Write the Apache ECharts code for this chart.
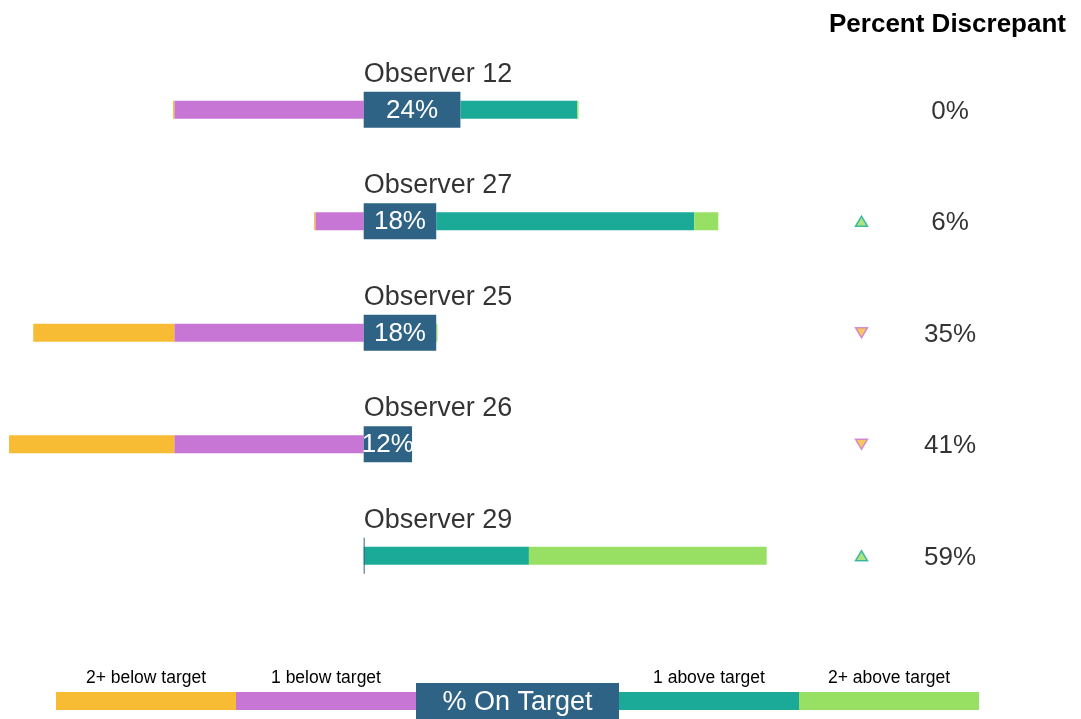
<!DOCTYPE html>
<html>
<head>
<meta charset="utf-8">
<script src="https://cdn.jsdelivr.net/npm/echarts@6/dist/echarts.min.js"></script>
<style>
    html, body { margin: 0; padding: 0; background: #fff; }
    #chart { width: 1081px; height: 719px; }
</style>
</head>
<body>
<div id="chart"></div>
<script>
// data, top to bottom
const observers = ['Observer 12', 'Observer 27', 'Observer 25', 'Observer 26', 'Observer 29'];
const below2 = [0.3, 0.3, 35, 41, 0];
const below1 = [47, 12, 47, 47, 0];
const onTarget = [24, 18, 18, 12, 0];
const above1 = [29, 64, 0, 0, 41];
const above2 = [0.3, 6, 0.3, 0, 59];
const discrepant = ['0%', '6%', '35%', '41%', '59%'];
const trend = ['none', 'up', 'down', 'down', 'up'];
const legendLabels = ['2+ below target', '1 below target', '% On Target', '1 above target', '2+ above target'];

const colors = {
    below2: '#f7bc33',
    below1: '#c876d6',
    onTarget: '#2f6386',
    above1: '#1aaa97',
    above2: '#97e063'
};
const FONT = 'Liberation Sans, Arial, sans-serif';

const chart = echarts.init(document.getElementById('chart'));

const neg = arr => arr.map(v => -v);

// legend strip at the bottom
const legendGraphics = [];
(function () {
    const x0 = 56, w = 180, y = 692, h = 18;
    const cols = [colors.below2, colors.below1, null, colors.above1, colors.above2];
    let x = x0;
    cols.forEach((c, i) => {
        if (c === null) {
            legendGraphics.push({ type: 'rect', shape: { x: x, y: 683, width: 203, height: 40 }, style: { fill: colors.onTarget } });
            legendGraphics.push({ type: 'text', x: x + 101.5, y: 703, style: { text: legendLabels[i], fill: '#fff', font: '27px ' + FONT, align: 'center', verticalAlign: 'middle' } });
            x += 203;
            return;
        }
        legendGraphics.push({ type: 'rect', shape: { x: x, y: y, width: w, height: h }, style: { fill: c } });
        legendGraphics.push({ type: 'text', x: x + w / 2, y: 678, style: { text: legendLabels[i], fill: '#000', font: '17.5px ' + FONT, align: 'center', verticalAlign: 'middle' } });
        x += w;
    });
})();

const option = {
    animation: false,
    textStyle: { fontFamily: FONT },
    title: {
        text: 'Percent Discrepant',
        right: 10, top: 7,
        textStyle: { fontSize: 26, fontWeight: 'bold', color: '#000', fontFamily: FONT }
    },
    grid: [
        { left: 1, right: 0, top: 54, height: 557.5 },
        { left: 0, right: 0, top: 54, height: 557.5 }
    ],
    xAxis: [
        { type: 'value', min: -90, max: 178, show: false, gridIndex: 0 },
        { type: 'value', min: 0, max: 1081, show: false, gridIndex: 1 }
    ],
    yAxis: [
        { type: 'category', data: observers, inverse: true, show: false, gridIndex: 0 },
        { type: 'category', data: observers, inverse: true, show: false, gridIndex: 0 },
        { type: 'category', data: observers, inverse: true, show: false, gridIndex: 1 }
    ],
    series: [
        { type: 'bar', stack: 'a', barWidth: 18, data: onTarget, itemStyle: { color: 'rgba(0,0,0,0)' }, silent: true },
        { type: 'bar', stack: 'a', barWidth: 18, data: above1, itemStyle: { color: colors.above1 } },
        { type: 'bar', stack: 'a', barWidth: 18, data: above2, itemStyle: { color: colors.above2 } },
        { type: 'bar', stack: 'a', barWidth: 18, data: neg(below1), itemStyle: { color: colors.below1 } },
        { type: 'bar', stack: 'a', barWidth: 18, data: neg(below2), itemStyle: { color: colors.below2 } },
        {
            type: 'bar', yAxisIndex: 1, barWidth: 36, barMinHeight: 1, data: onTarget,
            itemStyle: { color: colors.onTarget },
            label: {
                show: true, position: 'inside', color: '#fff', fontSize: 26, fontFamily: FONT,
                offset: [0, 1],
                formatter: p => p.value > 0 ? p.value + '%' : ''
            }
        },
        {
            // observer names above each bar
            type: 'scatter', symbolSize: 0,
            data: observers.map(o => [0, o]),
            label: {
                show: true, position: 'right', distance: 0, offset: [0, -35.5],
                color: '#000', fontSize: 27, fontFamily: FONT,
                formatter: p => p.value[1]
            }
        },
        {
            type: 'scatter', xAxisIndex: 1, yAxisIndex: 2, symbol: 'triangle', symbolSize: [12, 10],
            data: observers.map((o, i) => trend[i] === 'none' ? null : {
                value: [861.5, o],
                symbolRotate: trend[i] === 'down' ? 180 : 0,
                itemStyle: trend[i] === 'up'
                    ? { color: colors.above2, borderColor: colors.above1, borderWidth: 1.5 }
                    : { color: colors.below2, borderColor: colors.below1, borderWidth: 1.5 }
            })
        },
        {
            type: 'scatter', xAxisIndex: 1, yAxisIndex: 2, symbolSize: 0,
            data: observers.map((o, i) => [950, o, discrepant[i]]),
            label: {
                show: true, position: 'inside', offset: [0, 2], color: '#000', fontSize: 26, fontFamily: FONT,
                formatter: p => p.value[2]
            }
        }
    ],
    graphic: legendGraphics
};

chart.setOption(option);
</script>
</body>
</html>
